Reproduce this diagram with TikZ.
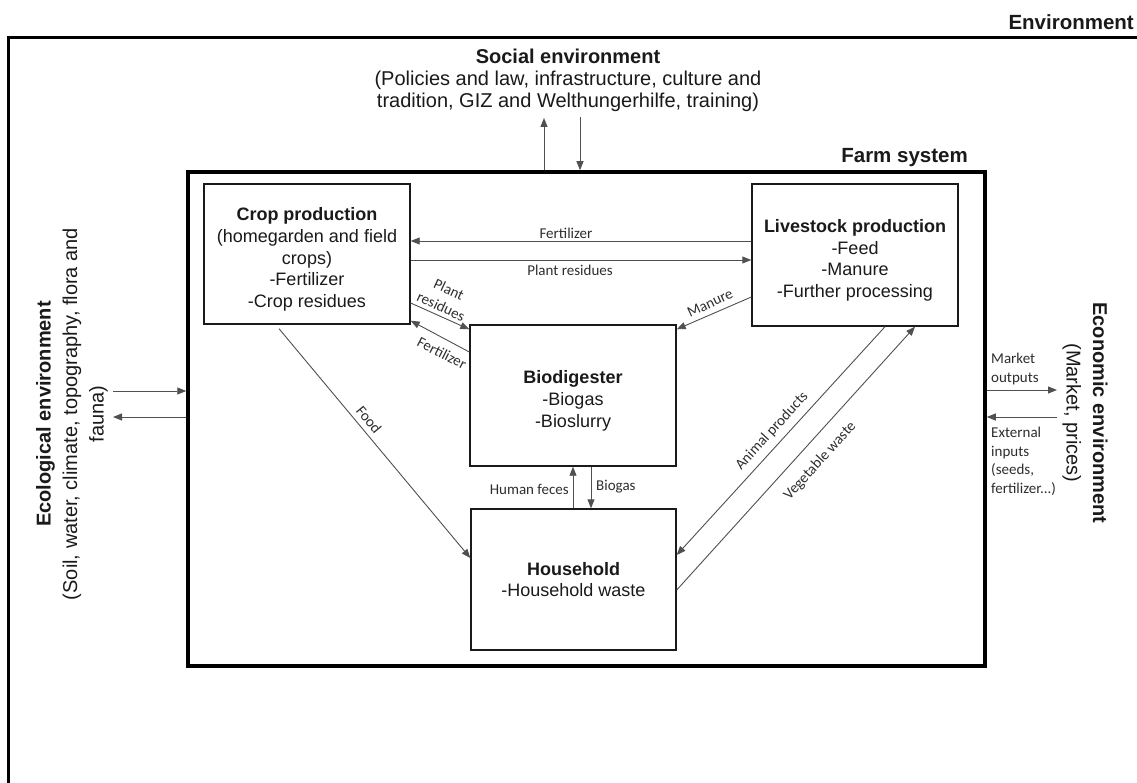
\documentclass[tikz,border=0pt]{standalone}
\usepackage{fontspec}
\setmainfont{Liberation Sans}
\newfontfamily\lblfamily{Carlito}
\usetikzlibrary{arrows.meta}
\definecolor{ink}{HTML}{1A1A1A}
\definecolor{arrowgray}{HTML}{505050}
\definecolor{lblgray}{HTML}{2E2E2E}
\newcommand{\toppad}{\rule{0pt}{24pt}}
\tikzset{
  boxnode/.style={draw=ink, line width=1.4pt, rectangle, align=center, inner sep=0pt,
    text=ink, font=\fontsize{18pt}{21.7pt}\selectfont},
  farmbox/.style={draw=black, line width=3.5pt, rectangle, inner sep=0pt},
  arr/.style={draw=arrowgray, line width=0.9pt, -{Triangle[length=9pt,width=7pt]}},
  lbl/.style={font=\lblfamily\fontsize{15pt}{18.5pt}\selectfont, text=lblgray, inner sep=1pt, align=center},
  envtxt/.style={font=\fontsize{20pt}{22pt}\selectfont, text=ink, align=center, inner sep=1pt},
  envtxtwide/.style={font=\fontsize{20pt}{26.5pt}\selectfont, text=ink, align=center, inner sep=1pt},
  headtxt/.style={font=\bfseries\fontsize{20.5pt}{24pt}\selectfont, text=ink, inner sep=0pt},
}
\begin{document}
\begin{tikzpicture}[x=1pt, y=-1pt]
\useasboundingbox (0,0) rectangle (1137,783);
\fill[white] (0,0) rectangle (1137,783);

% Environment frame (right and bottom sides lie outside the picture)
\draw[black, line width=3pt] (1137,38) -- (8,38) -- (8,783);
\node[headtxt, anchor=east] (envlbl) at (1134,22) {Environment};

% Farm system
\node[farmbox, minimum width=797pt, minimum height=494pt] (farm) at (586.5,419) {};
\node[headtxt, anchor=east] (farmlbl) at (968,158) {Farm system};

% Boxes
\node[boxnode, minimum width=206pt, minimum height=140pt] (crop) at (307,254)
  {\toppad\textbf{Crop production}\\(homegarden and field\\crops)\\-Fertilizer\\-Crop residues};
\node[boxnode, minimum width=206pt, minimum height=142pt] (lv) at (855,255)
  {\toppad\textbf{Livestock production}\\-Feed\\-Manure\\-Further processing};
\node[boxnode, minimum width=206pt, minimum height=141pt] (bio) at (573,395.5)
  {\toppad\textbf{Biodigester}\\-Biogas\\-Bioslurry};
\node[boxnode, minimum width=205pt, minimum height=141pt] (hh) at (573.5,579.5)
  {\textbf{Household}\\-Household waste};

% Social environment
\node[envtxt, anchor=north] (soc) at (568,48)
  {\textbf{Social environment}\\(Policies and law, infrastructure, culture and\\tradition, GIZ and Welthungerhilfe, training)};
\coordinate (socup) at (544,118);
\coordinate (socdn) at (580,117);
\draw[arr] (farm.north -| socup) -- (socup);
\draw[arr] (socdn) -- (farm.north -| socdn);

% Ecological environment
\node[envtxtwide, rotate=90] (eco) at (72,414)
  {\textbf{Ecological environment}\\(Soil, water, climate, topography, flora and\\fauna)};
\coordinate (ecoin) at (113,391);
\coordinate (ecoout) at (113,417);
\draw[arr] (ecoin) -- (farm.west |- ecoin);
\draw[arr] (farm.west |- ecoout) -- (ecoout);

% Economic environment
\node[envtxtwide, rotate=-90] (econ) at (1085,413)
  {\textbf{Economic environment}\\(Market, prices)};
\coordinate (mkout) at (1057,390);
\coordinate (extin) at (1057,417);
\draw[arr] (farm.east |- mkout) -- (mkout);
\draw[arr] (extin) -- (farm.east |- extin);
\node[lbl, anchor=west, align=left] (mklbl) at (990,369) {Market\\outputs};
\node[lbl, anchor=north west, align=left] (extlbl) at (990,426) {External\\inputs\\(seeds,\\fertilizer...)};

% Crop <-> Livestock
\coordinate (yfert) at (0,241);
\coordinate (yplant) at (0,260);
\draw[arr] (lv.west |- yfert) -- (crop.east |- yfert);
\draw[arr] (crop.east |- yplant) -- (lv.west |- yplant);
\node[lbl] (fertlbl) at (566,233) {Fertilizer};
\node[lbl] (plantlbl) at (570,270) {Plant residues};

% Crop <-> Biodigester
\coordinate (ypr) at (0,303);
\coordinate (yfb) at (0,352);
\draw[arr] (crop.east |- ypr) -- ([yshift=-5pt]bio.north west);
\draw[arr] (bio.west |- yfb) -- ([yshift=4pt]crop.south east);
\node[lbl, rotate=-25] (prlbl) at (445,298) {Plant\\residues};
\node[lbl, rotate=-27] (fblbl) at (442,353) {Fertilizer};

% Livestock -> Biodigester
\coordinate (yman) at (0,297);
\draw[arr] (lv.west |- yman) -- ([yshift=-5pt]bio.north east);
\node[lbl, rotate=25] (manlbl) at (710,303) {Manure};

% Crop -> Household
\coordinate (xfood) at (279,0);
\coordinate (yfood) at (0,558);
\draw[arr] ([yshift=-4pt]crop.south -| xfood) -- (hh.west |- yfood);
\node[lbl, rotate=-50.3] (foodlbl) at (369,420) {Food};

% Livestock <-> Household
\coordinate (xan) at (885,0);
\coordinate (yan) at (0,555);
\coordinate (xveg) at (915,0);
\coordinate (yveg) at (0,590);
\draw[arr] (lv.south -| xan) -- (hh.east |- yan);
\draw[arr] (hh.east |- yveg) -- (lv.south -| xveg);
\node[lbl, rotate=47.6] (anlbl) at (772,431) {Animal products};
\node[lbl, rotate=47.9] (veglbl) at (820,461) {Vegetable waste};

% Biodigester <-> Household
\coordinate (xfec) at (573,0);
\coordinate (xgas) at (591,0);
\draw[arr] (hh.north -| xfec) -- (bio.south -| xfec);
\draw[arr] (bio.south -| xgas) -- (hh.north -| xgas);
\node[lbl, anchor=east] (feclbl) at (570,489) {Human feces};
\node[lbl, anchor=west] (gaslbl) at (595,487) {Biogas};
\end{tikzpicture}
\end{document}
